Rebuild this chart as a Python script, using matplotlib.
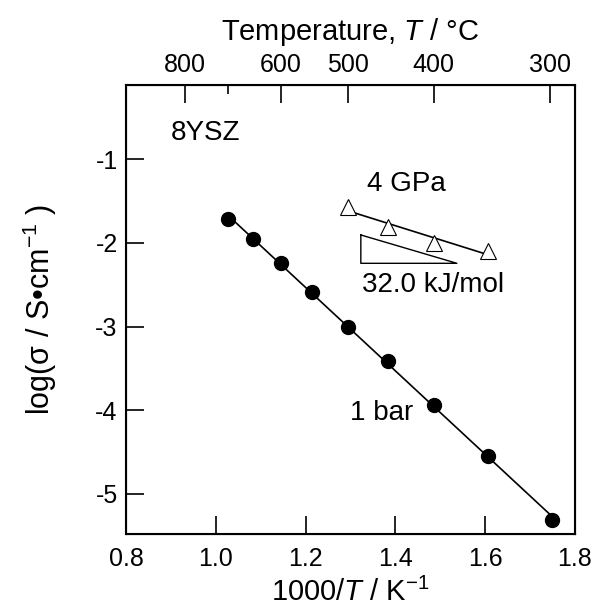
import matplotlib
matplotlib.use("Agg")
import matplotlib.pyplot as plt
import numpy as np

plt.rcParams['font.family'] = ['Liberation Sans', 'DejaVu Sans']
plt.rcParams['mathtext.fontset'] = 'custom'
plt.rcParams['mathtext.rm'] = 'Liberation Sans'
plt.rcParams['mathtext.it'] = 'Liberation Sans:italic'
plt.rcParams['axes.unicode_minus'] = False

# 1 bar data (filled circles)
x_1bar = [1.028, 1.083, 1.145, 1.214, 1.294, 1.383, 1.486, 1.606, 1.748]
y_1bar = [-1.717, -1.956, -2.243, -2.589, -3.00, -3.41, -3.936, -4.545, -5.31]

# 4 GPa data (open triangles)
x_4gpa = [1.294, 1.384, 1.487, 1.606]
y_4gpa = [-1.566, -1.805, -1.996, -2.094]

# slope triangle for the activation energy
slope_x = [1.323, 1.323, 1.537, 1.323]
slope_y = [-1.904, -2.243, -2.243, -1.904]

x_ticks = [0.8, 1.0, 1.2, 1.4, 1.6, 1.8]
y_ticks = [-5, -4, -3, -2, -1]
temp_ticks_c = [800, 600, 500, 400, 300]
temp_minor_c = [700]

fig = plt.figure(figsize=(6.01, 6.11), dpi=100)
ax = fig.add_axes([0.2097, 0.126, 0.747, 0.735])

# fitted lines
p1 = np.polyfit(x_1bar, y_1bar, 1)
xx1 = np.array([x_1bar[0], x_1bar[-1]])
ax.plot(xx1, np.polyval(p1, xx1), color='black', lw=1.2)
p2 = np.polyfit(x_4gpa, y_4gpa, 1)
xx2 = np.array([x_4gpa[0], x_4gpa[-1]])
ax.plot(xx2, np.polyval(p2, xx2), color='black', lw=1.2)

ax.plot(x_1bar, y_1bar, 'o', color='black', ms=10, zorder=3)
ax.plot(x_4gpa, y_4gpa, '^', mfc='white', mec='black', mew=0.8, ms=12, zorder=3)
ax.plot(slope_x, slope_y, color='black', lw=1.0)

ax.text(0.8996, -0.686, '8YSZ', fontsize=20, va='center', ha='left')
ax.text(1.336, -1.30, '4 GPa', fontsize=20, va='center', ha='left')
ax.text(1.325, -2.50, '32.0 kJ/mol', fontsize=20, va='center', ha='left')
ax.text(1.299, -4.03, '1 bar', fontsize=20, va='center', ha='left')

ax.set_xlim(0.8, 1.8)
ax.set_ylim(-5.48, -0.11)
ax.set_xticks(x_ticks)
ax.set_xticklabels(['%.1f' % v for v in x_ticks])
ax.set_yticks(y_ticks)
ax.tick_params(axis='both', direction='in', length=13, width=1.2, labelsize=18)
ax.tick_params(axis='x', pad=9)
ax.tick_params(axis='y', pad=6)
for s in ax.spines.values():
    s.set_linewidth(1.5)

ax.set_xlabel('1000/$\\mathit{T}$ / K$^{-1}$', fontsize=21, labelpad=5)
ax.set_ylabel('log(σ / S•cm$^{-1}$ )', fontsize=22, labelpad=26)

# top axis in degrees Celsius
ax2 = ax.twiny()
ax2.set_xlim(ax.get_xlim())
ax2.set_xticks([1000 / (t + 273.15) for t in temp_ticks_c])
ax2.set_xticklabels([str(t) for t in temp_ticks_c])
ax2.set_xticks([1000 / (t + 273.15) for t in temp_minor_c], minor=True)
ax2.tick_params(axis='x', which='major', direction='in', length=13, width=1.2,
                labelsize=18, pad=6)
ax2.tick_params(axis='x', which='minor', direction='in', length=6.5, width=1.2)
ax2.set_xlabel('Temperature, $\\mathit{T}$ / °C', fontsize=21, labelpad=9)

fig.savefig('out.png', dpi=100)
